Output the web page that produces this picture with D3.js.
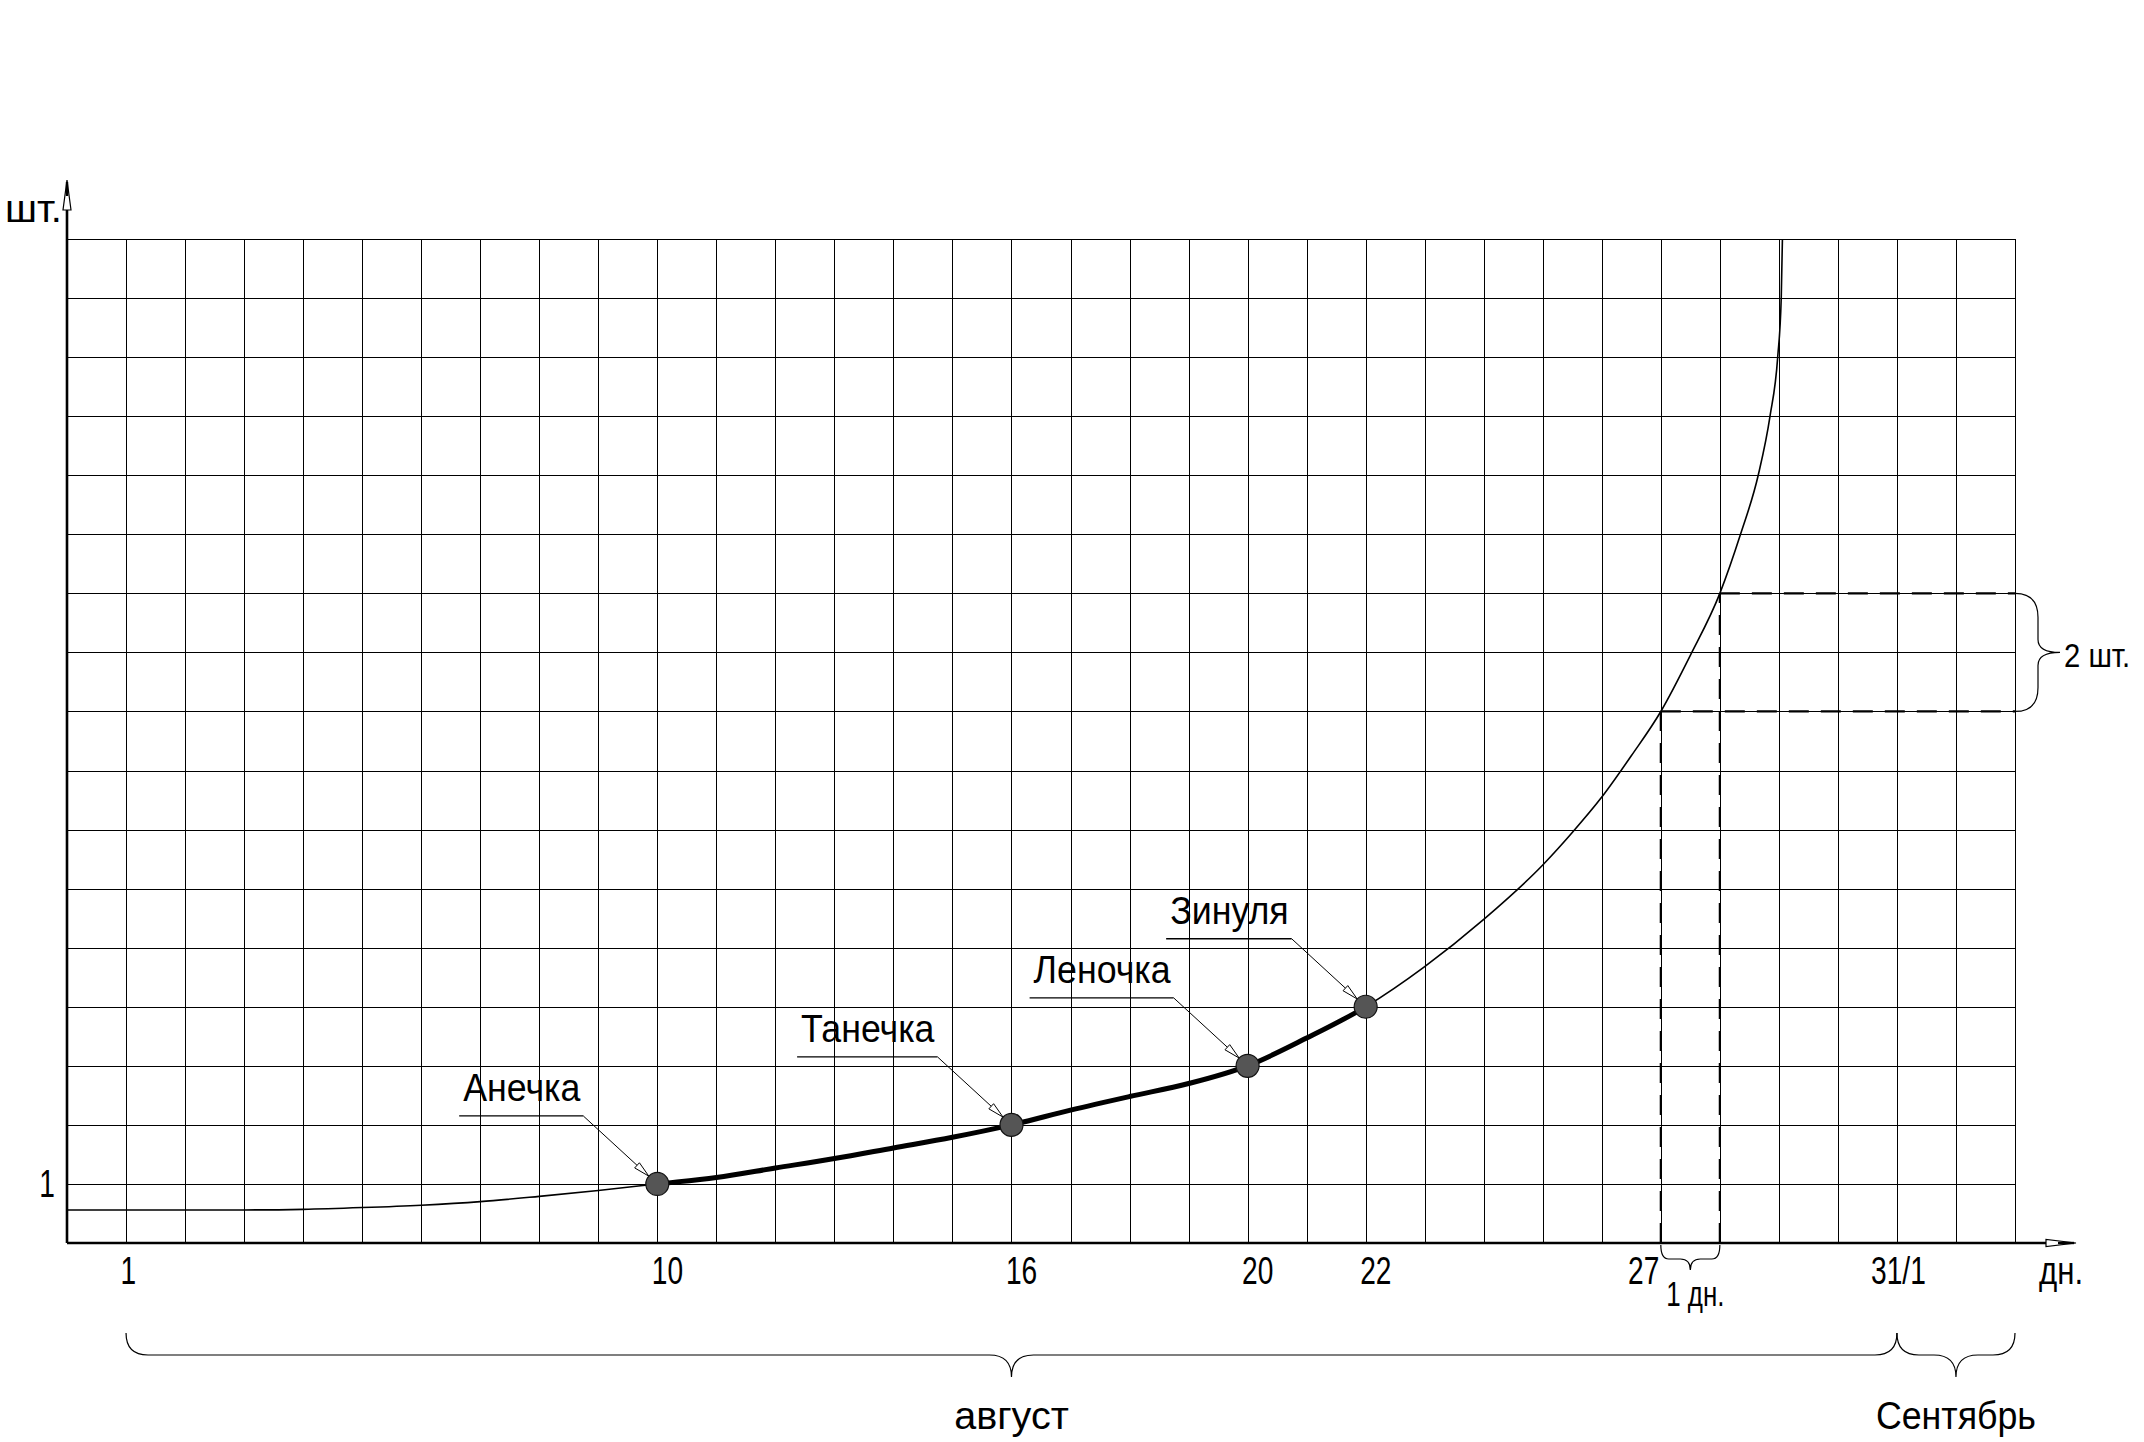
<!DOCTYPE html>
<html>
<head>
<meta charset="utf-8">
<script src="https://cdn.jsdelivr.net/npm/d3@7"></script>
<style>
html, body { margin: 0; padding: 0; background: #fff; }
svg { display: block; }
text { font-family: "Liberation Sans", Arial, sans-serif; fill: #000; }
</style>
</head>
<body>
<svg id="chart" width="2144" height="1442"></svg>
<script>
// ---------------- data ----------------
const curveDays  = [0, 1, 2, 3, 4, 5, 6, 7, 8, 9, 10, 11, 12, 13, 14, 15, 16, 17, 18, 19, 20, 21, 22, 23, 24, 25, 25.5, 26, 26.5, 27, 27.5, 28, 28.35, 28.65, 28.85, 28.98, 29.04, 29.06];
const curveCount = [0.56, 0.56, 0.56, 0.56, 0.57, 0.6, 0.64, 0.7, 0.79, 0.89, 1, 1.11, 1.27, 1.43, 1.61, 1.79, 2, 2.25, 2.48, 2.7, 3, 3.47, 4, 4.68, 5.48, 6.4, 6.95, 7.55, 8.25, 9, 9.95, 11, 12, 13, 14, 15, 16, 17];

const pointNames = ["Анечка", "Танечка", "Леночка", "Зинуля"];
const pointDays  = [10, 16, 20, 22];
const pointCount = [1, 2, 3, 4];

const xTickValues = [1, 10, 16, 20, 22, 27, 31];
const xTickLabels = ["1", "10", "16", "20", "22", "27", "31/1"];
const yTickValues = [1];
const yTickLabels = ["1"];

const guideDays  = [27, 28];
const guideCount = [9, 11];

const monthNames = ["август", "Сентябрь"];
const monthStart = [1, 31];
const monthEnd   = [31, 33];

const xUnit = "дн.";
const yUnit = "шт.";
const dayStepLabel = "1 дн.";
const countStepLabel = "2 шт.";

const gridCols = 33;
const gridRows = 17;

// ---------------- layout ----------------
const L = 67, R = 2015, T = 239, B = 1243;
const FS = 38;

// narrow the glyphs of a text horizontally (drawing-font look)
function condense(sel, k) {
  sel.each(function () {
    const w = this.getComputedTextLength();
    d3.select(this).attr("textLength", w * k).attr("lengthAdjust", "spacingAndGlyphs");
  });
  return sel;
}

const svg = d3.select("#chart");
svg.append("rect").attr("width", 2144).attr("height", 1442).attr("fill", "#fff");

const x = d3.scaleLinear().domain([0, gridCols]).range([L, R]);
const y = d3.scaleLinear().domain([0, gridRows]).range([B, T]);

// grid
const gridG = svg.append("g");
gridG.append("g").attr("transform", `translate(0,${B})`)
  .call(d3.axisBottom(x).tickValues(d3.range(1, gridCols + 1)).tickSize(-(B - T)).tickFormat(""))
  .call(g => g.select(".domain").remove());
gridG.append("g").attr("transform", `translate(${L},0)`)
  .call(d3.axisLeft(y).tickValues(d3.range(1, gridRows + 1)).tickSize(-(R - L)).tickFormat(""))
  .call(g => g.select(".domain").remove());
gridG.selectAll("line").attr("stroke", "#000").attr("stroke-width", 1).attr("shape-rendering", "crispEdges");

// dashed guide lines
const dashG = svg.append("g").attr("stroke", "#000").attr("stroke-width", 2.2)
  .attr("stroke-dasharray", "20,12").attr("fill", "none");
guideDays.forEach((d, i) => {
  dashG.append("line").attr("x1", x(d)).attr("x2", x(d)).attr("y1", y(0)).attr("y2", y(guideCount[i]));
  dashG.append("line").attr("x1", x(d)).attr("x2", x(gridCols)).attr("y1", y(guideCount[i])).attr("y2", y(guideCount[i]));
});

// curve
const curveData = curveDays.map((d, i) => [d, curveCount[i]]);
const line = d3.line().x(d => x(d[0])).y(d => y(d[1])).curve(d3.curveMonotoneX);
svg.append("path").attr("d", line(curveData)).attr("fill", "none").attr("stroke", "#000").attr("stroke-width", 1.6);

// thick segment between first and last named point
const clip = svg.append("defs").append("clipPath").attr("id", "thickClip");
clip.append("rect").attr("x", x(d3.min(pointDays))).attr("y", 0)
  .attr("width", x(d3.max(pointDays)) - x(d3.min(pointDays))).attr("height", 1442);
svg.append("path").attr("d", line(curveData)).attr("fill", "none").attr("stroke", "#000")
  .attr("stroke-width", 5).attr("clip-path", "url(#thickClip)");

// axes
svg.append("line").attr("x1", L).attr("y1", B).attr("x2", 2060).attr("y2", B).attr("stroke", "#000").attr("stroke-width", 2.6);
svg.append("line").attr("x1", L).attr("y1", B).attr("x2", L).attr("y2", 195).attr("stroke", "#000").attr("stroke-width", 2.6);
// arrowheads (hollow, CAD style)
svg.append("path").attr("d", `M2076,${B} L2046,${B - 3.5} L2046,${B + 3.5} Z`)
  .attr("fill", "#fff").attr("stroke", "#000").attr("stroke-width", 1.2);
svg.append("line").attr("x1", 2058).attr("y1", B).attr("x2", 2074).attr("y2", B).attr("stroke", "#000").attr("stroke-width", 2.4);
svg.append("path").attr("d", `M${L},180 L${L - 4},210 L${L + 4},210 Z`)
  .attr("fill", "#fff").attr("stroke", "#000").attr("stroke-width", 1.2);
svg.append("line").attr("x1", L).attr("y1", 182).attr("x2", L).attr("y2", 196).attr("stroke", "#000").attr("stroke-width", 2.4);

// x tick labels
const xAxisG = svg.append("g").attr("transform", `translate(0,${B})`)
  .call(d3.axisBottom(x).tickValues(xTickValues).tickFormat((d, i) => xTickLabels[i]).tickSize(0));
xAxisG.select(".domain").remove();
xAxisG.selectAll("text")
  .attr("font-size", FS).attr("font-family", null).attr("y", 41).attr("dy", null)
  .attr("text-anchor", (d, i) => xTickLabels[i] === "27" ? "end" : (xTickLabels[i] === "31/1" ? "middle" : "start"))
  .attr("x", (d, i) => xTickLabels[i] === "27" ? -2 : (xTickLabels[i] === "31/1" ? 1 : -6));
condense(xAxisG.selectAll("text"), 0.74);

// y tick labels
const yAxisG = svg.append("g").attr("transform", `translate(${L},0)`)
  .call(d3.axisLeft(y).tickValues(yTickValues).tickFormat((d, i) => yTickLabels[i]).tickSize(0).tickPadding(12));
yAxisG.select(".domain").remove();
yAxisG.selectAll("text").attr("font-size", FS).attr("font-family", null).attr("dy", "0.32em");
condense(yAxisG.selectAll("text"), 0.74);

// axis units
condense(svg.append("text").attr("x", 5).attr("y", 222).attr("font-size", FS).text(yUnit), 1.05);
condense(svg.append("text").attr("x", 2039).attr("y", 1284).attr("font-size", FS).text(xUnit), 0.82);

// points, leaders, names
const r = 11.5;
const ptG = svg.append("g");
pointDays.forEach((d, i) => {
  const cx = x(d), cy = y(pointCount[i]);
  const bx = cx - 74, by = cy - 68;
  const label = ptG.append("text").attr("font-size", FS).text(pointNames[i]);
  condense(label, 0.94);
  const tw = +label.attr("textLength");
  const left = bx - tw - 7;
  label.attr("x", left + 4).attr("y", by - 15);
  ptG.append("line").attr("x1", left).attr("y1", by).attr("x2", bx).attr("y2", by)
    .attr("stroke", "#000").attr("stroke-width", 1.3);
  const len = Math.hypot(cx - bx, cy - by);
  const ux = (cx - bx) / len, uy = (cy - by) / len;
  const tx = cx - ux * r, ty = cy - uy * r;
  ptG.append("line").attr("x1", bx).attr("y1", by).attr("x2", tx - ux * 8).attr("y2", ty - uy * 8)
    .attr("stroke", "#000").attr("stroke-width", 1);
  const ax = tx - ux * 16, ay = ty - uy * 16;
  ptG.append("path")
    .attr("d", `M${tx},${ty} L${ax - uy * 3.5},${ay + ux * 3.5} L${ax + uy * 3.5},${ay - ux * 3.5} Z`)
    .attr("fill", "#fff").attr("stroke", "#000").attr("stroke-width", 1);
});
ptG.selectAll("circle").data(pointDays).join("circle")
  .attr("cx", d => x(d)).attr("cy", (d, i) => y(pointCount[i])).attr("r", r)
  .attr("fill", "#555").attr("stroke", "#111").attr("stroke-width", 1.2);

// braces
function hBrace(x1, x2, yTop, yMid, yTip, rEnd, rTip) {
  const m = (x1 + x2) / 2;
  return `M${x1},${yTop} Q${x1},${yMid} ${x1 + rEnd},${yMid} L${m - rTip},${yMid} Q${m},${yMid} ${m},${yTip} ` +
         `Q${m},${yMid} ${m + rTip},${yMid} L${x2 - rEnd},${yMid} Q${x2},${yMid} ${x2},${yTop}`;
}
function vBrace(xEdge, y1, y2, xMid, xTip, rEnd, rTip) {
  const m = (y1 + y2) / 2;
  return `M${xEdge},${y1} Q${xMid},${y1} ${xMid},${y1 + rEnd} L${xMid},${m - rTip} Q${xMid},${m} ${xTip},${m} ` +
         `Q${xMid},${m} ${xMid},${m + rTip} L${xMid},${y2 - rEnd} Q${xMid},${y2} ${xEdge},${y2}`;
}
const braceG = svg.append("g").attr("fill", "none").attr("stroke", "#000").attr("stroke-width", 1.2);

// month braces + labels
monthNames.forEach((name, i) => {
  const x1 = x(monthStart[i]), x2 = x(monthEnd[i]);
  braceG.append("path").attr("d", hBrace(x1, x2, 1333, 1355, 1377, 22, 22));
  const t = svg.append("text").attr("x", (x1 + x2) / 2).attr("y", 1429).attr("text-anchor", "middle")
    .attr("font-size", FS).text(name);
  condense(t, i === 0 ? 1.04 : 0.94);
});

// one day step brace
braceG.append("path").attr("d", hBrace(x(guideDays[0]), x(guideDays[1]), B + 2, 1259, 1270, 8, 10));
condense(svg.append("text").attr("x", (x(guideDays[0]) + x(guideDays[1])) / 2 + 5).attr("y", 1306)
  .attr("text-anchor", "middle").attr("font-size", 35).text(dayStepLabel), 0.74);

// two units step brace
braceG.append("path").attr("d", vBrace(R, y(guideCount[1]), y(guideCount[0]), 2038, 2060, 24, 13));
condense(svg.append("text").attr("x", 2064).attr("y", 667).attr("font-size", 34).text(countStepLabel), 0.86);
</script>
</body>
</html>
